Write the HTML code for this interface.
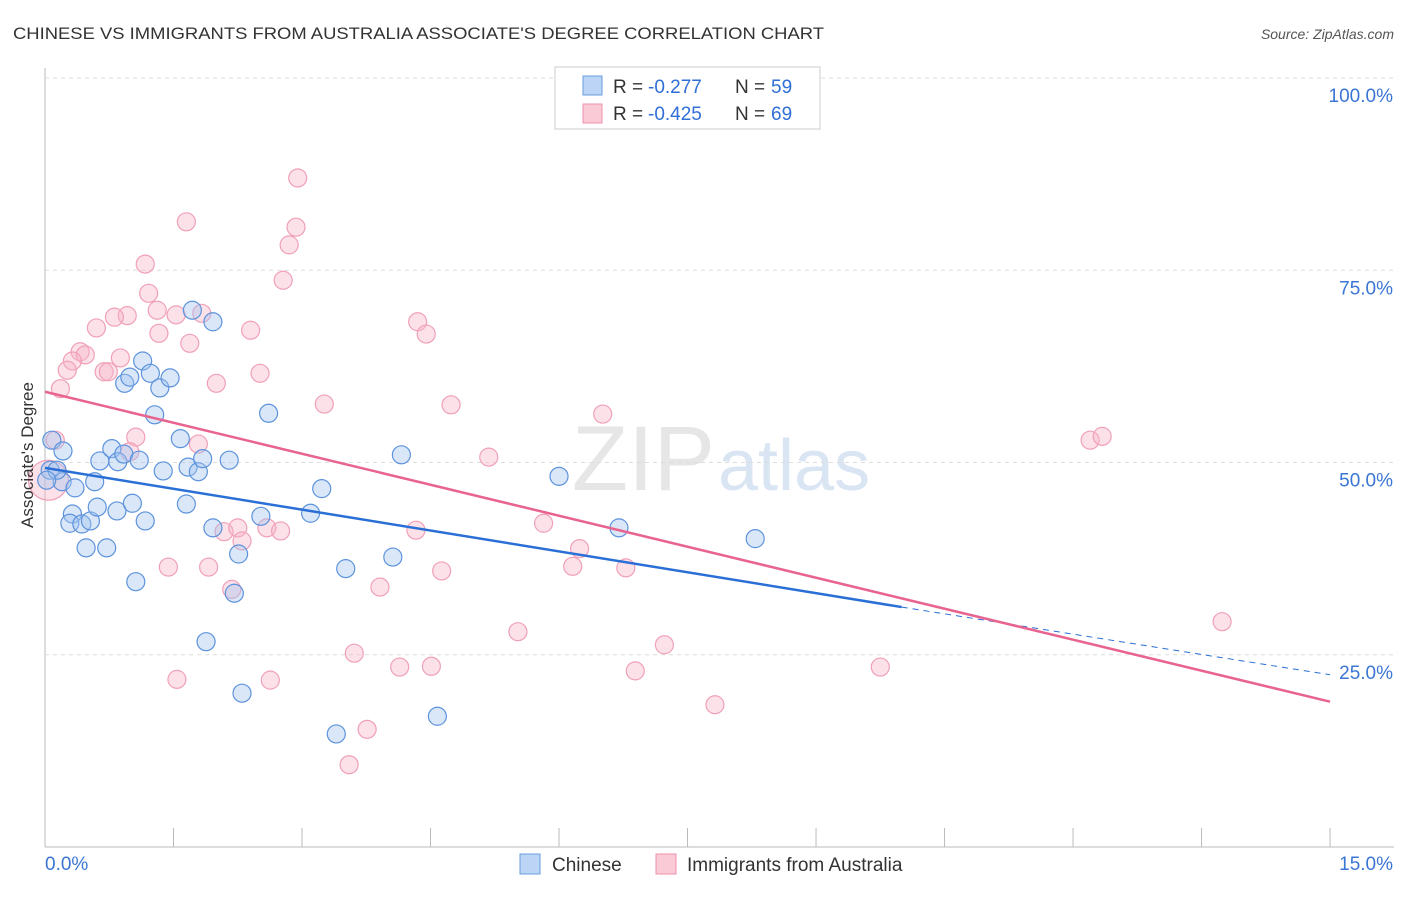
<!DOCTYPE html>
<html><head><meta charset="utf-8"><style>
body{margin:0;background:#fff;font-family:"Liberation Sans",sans-serif}
svg text{font-family:"Liberation Sans",sans-serif}
</style></head><body>
<svg id="c" width="1406" height="892" xmlns="http://www.w3.org/2000/svg">
<text x="13" y="39" font-size="17" fill="#333" textLength="811" lengthAdjust="spacingAndGlyphs">CHINESE VS IMMIGRANTS FROM AUSTRALIA ASSOCIATE'S DEGREE CORRELATION CHART</text>
<text x="1394" y="39" font-size="14" fill="#555" font-style="italic" text-anchor="end">Source: ZipAtlas.com</text>
<text x="715" y="490" font-size="92" fill="#e6e6e6" text-anchor="end" font-family="Liberation Serif">ZIP</text>
<text x="718" y="490" font-size="72" fill="#dae5f4">atlas</text>
<g id="grid"></g><g id="pts"></g><g id="lines"></g>
<text x="33" y="455" font-size="17" fill="#333" text-anchor="middle" transform="rotate(-90 33 455)">Associate's Degree</text>
<g>
<rect x="555" y="67" width="265" height="62" fill="#fff" stroke="#ccc"/>
<rect x="583" y="76" width="19" height="19" fill="#bcd4f5" stroke="#6a9ee0"/>
<rect x="583" y="104" width="19" height="19" fill="#fbcad7" stroke="#ee8fab"/>
<text x="613" y="93" font-size="19" fill="#333">R =</text><text x="648" y="93" font-size="19" fill="#2f6fd6">-0.277</text>
<text x="735" y="93" font-size="19" fill="#333">N =</text><text x="771" y="93" font-size="19" fill="#2f6fd6">59</text>
<text x="613" y="120" font-size="19" fill="#333">R =</text><text x="648" y="120" font-size="19" fill="#2f6fd6">-0.425</text>
<text x="735" y="120" font-size="19" fill="#333">N =</text><text x="771" y="120" font-size="19" fill="#2f6fd6">69</text>
</g>
<g>
<rect x="520" y="854" width="20" height="20" fill="#bcd4f5" stroke="#6a9ee0"/>
<text x="552" y="871" font-size="19" fill="#333">Chinese</text>
<rect x="656" y="854" width="20" height="20" fill="#fbcad7" stroke="#ee8fab"/>
<text x="687" y="871" font-size="19" fill="#333">Immigrants from Australia</text>
</g>
</svg>
<script>
const blueX=[0.08,0.06,0.2,0.21,0.35,0.32,0.29,0.48,0.43,0.53,0.58,0.61,0.72,0.64,0.78,0.85,0.84,0.92,1.02,1.10,1.17,1.06,0.93,0.99,1.14,1.23,1.34,1.28,1.46,1.38,1.58,1.65,1.67,1.79,1.72,1.96,1.84,1.96,2.15,2.26,2.21,1.88,2.30,2.52,2.61,3.10,3.23,3.51,3.40,4.06,4.16,4.58,6.00,6.70,8.29,0.14,0.02];
const blueY=[52.9,49.0,47.5,51.5,46.7,43.3,42.1,38.9,42.0,42.4,47.5,44.2,38.9,50.2,51.8,50.1,43.7,51.1,44.7,50.3,42.4,34.5,60.3,61.1,63.2,61.6,59.7,56.2,61.0,48.9,53.1,44.6,49.4,48.8,69.8,68.3,50.5,41.5,50.3,38.1,33.0,26.7,20.0,43.0,56.4,43.4,46.6,36.2,14.7,37.7,51.0,17.0,48.2,41.5,40.1,49.0,47.7];
const pinkX=[2.95,1.65,2.93,2.85,1.17,2.78,1.21,0.96,0.60,0.81,1.31,1.53,1.83,1.33,1.69,2.40,4.35,4.45,0.41,0.47,0.32,0.26,0.69,0.88,0.74,0.18,2.00,2.51,3.26,4.74,6.51,0.12,1.06,1.79,5.18,0.99,12.20,12.34,2.09,2.25,2.59,2.75,2.30,4.33,5.82,6.24,6.16,6.78,4.63,3.91,1.44,1.91,2.18,5.52,7.23,3.61,4.14,4.51,6.89,9.75,1.54,2.63,7.82,3.76,3.55,13.74,0.04];
const pinkY=[87.0,81.3,80.6,78.3,75.8,73.7,72.0,69.1,67.5,68.9,69.8,69.2,69.4,66.8,65.5,67.2,68.3,66.7,64.4,64.0,63.2,62.0,61.8,63.6,61.8,59.6,60.3,61.6,57.6,57.5,56.3,52.9,53.3,52.4,50.7,51.4,52.9,53.4,41.0,41.5,41.5,41.1,39.8,41.2,42.1,38.8,36.5,36.3,35.9,33.8,36.4,36.4,33.5,28.0,26.3,25.2,23.4,23.5,22.9,23.4,21.8,21.7,18.5,15.3,10.7,29.3,47.7];
const blueTrend=[49.3,31.2,22.4]; // y at x=0, 10, 15
const pinkTrend=[59.2,18.9];       // y at x=0, 15
const yTicks=[25,50,75,100];
const yTickLabels=["25.0%","50.0%","75.0%","100.0%"];
const xTicks=[0,1.5,3,4.5,6,7.5,9,10.5,12,13.5,15];
const NS="http://www.w3.org/2000/svg";
const X=v=>45+v*85.67, Y=v=>847-v*7.69;
function mk(p,t,a){const e=document.createElementNS(NS,t);for(const k in a)e.setAttribute(k,a[k]);p.appendChild(e);return e;}
const g=document.getElementById('grid');
let ax=mk(g,'line',{x1:45,y1:68,x2:45,y2:847,stroke:'#bbb'});


let bx=mk(g,'line',{x1:45,y1:847,x2:1394,y2:847,stroke:'#bbb'});


yTicks.forEach((t,i)=>{
 const l=mk(g,'line',{x1:45,y1:Y(t),x2:1394,y2:Y(t),stroke:'#ddd','stroke-dasharray':'4,4'});
 
 
 const tx=mk(g,'text',{x:1393,y:Y(t)+24,'font-size':19,fill:'#3b76d4','text-anchor':'end'});tx.textContent=yTickLabels[i];
 
 
});
xTicks.forEach(t=>{const l=mk(g,'line',{x1:X(t),y1:828,x2:X(t),y2:847,stroke:'#bbb'});
 
 });
let t0=mk(g,'text',{x:45,y:870,'font-size':19,fill:'#3b76d4'});t0.textContent='0.0%';


let t1=mk(g,'text',{x:1393,y:870,'font-size':19,fill:'#3b76d4','text-anchor':'end'});t1.textContent='15.0%';


const P=document.getElementById('pts');
pinkX.forEach((x,i)=>{const c=mk(P,'circle',{cx:X(x),cy:Y(pinkY[i]),r:i==pinkX.length-1?20:9,fill:'rgba(248,180,200,0.4)',stroke:'#f0a0b8','stroke-width':1.2});
 
 });
blueX.forEach((x,i)=>{const c=mk(P,'circle',{cx:X(x),cy:Y(blueY[i]),r:9,fill:'rgba(160,195,240,0.4)',stroke:'#5d93dc','stroke-width':1.2});
 
 });
const L=document.getElementById('lines');
let b1=mk(L,'line',{x1:X(0),y1:Y(blueTrend[0]),x2:X(10),y2:Y(blueTrend[1]),stroke:'#2a6fd6','stroke-width':2.5});


let b2=mk(L,'line',{x1:X(10),y1:Y(blueTrend[1]),x2:X(15),y2:Y(blueTrend[2]),stroke:'#2a6fd6','stroke-width':1,'stroke-dasharray':'6,5'});


let p1=mk(L,'line',{x1:X(0),y1:Y(pinkTrend[0]),x2:X(15),y2:Y(pinkTrend[1]),stroke:'#e8648f','stroke-width':2.5});


</script>
</body></html>
